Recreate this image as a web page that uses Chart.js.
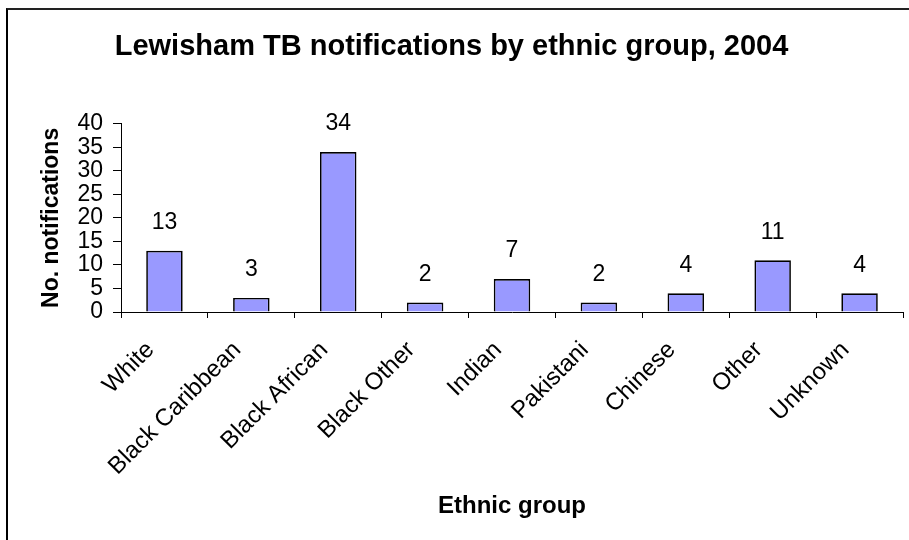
<!DOCTYPE html>
<html>
<head>
<meta charset="utf-8">
<script src="https://cdn.jsdelivr.net/npm/chart.js@4"></script>
<style>
  body { margin: 0; background: #fff; }
  #wrap { position: relative; width: 909px; height: 540px; overflow: hidden; }
  #frame { position: absolute; left: 6px; top: 8px; width: 1000px; height: 600px;
           border-left: 2px solid #000; border-top: 2px solid #222; pointer-events: none; }
  canvas { position: absolute; left: 0; top: 0; }
</style>
</head>
<body>
<div id="wrap">
  <canvas id="tb_chart" width="909" height="540"></canvas>
  <div id="frame"></div>
</div>
<script>
// Ethnic groups and the number of TB notifications for each
let groups = ['White', 'Black Caribbean', 'Black African', 'Black Other', 'Indian', 'Pakistani', 'Chinese', 'Other', 'Unknown']
let notifications = [13, 3, 34, 2, 7, 2, 4, 11, 4]
let yTicks = [0, 5, 10, 15, 20, 25, 30, 35, 40]

const font = 'Liberation Sans, Arial, sans-serif'

// Write each count above its bar
const valueLabels = {
  id: 'valueLabels',
  afterDatasetsDraw(chart) {
    const ctx = chart.ctx
    ctx.save()
    ctx.font = '23px ' + font
    ctx.fillStyle = '#000'
    ctx.textAlign = 'center'
    ctx.textBaseline = 'middle'
    chart.getDatasetMeta(0).data.forEach((bar, i) => {
      ctx.fillText(notifications[i], bar.x, bar.y - 28)
    })
    ctx.restore()
  }
}

let ctx = document.getElementById('tb_chart')
new Chart(ctx, {
  type: 'bar',
  data: {
    labels: groups,
    datasets: [{
      data: notifications,
      backgroundColor: '#9999FF',
      borderColor: '#000',
      borderWidth: 1.7,
      barPercentage: 0.42,
      categoryPercentage: 1
    }]
  },
  options: {
    responsive: false,
    animation: false,
    layout: { padding: { left: 0, right: 6, top: 0, bottom: 0 } },
    plugins: {
      legend: { display: false },
      tooltip: { enabled: false },
      title: {
        display: true,
        text: 'Lewisham TB notifications by ethnic group, 2004',
        color: '#000',
        font: { family: font, size: 29, weight: 'bold' },
        padding: { top: 30, bottom: 59 }
      }
    },
    scales: {
      x: {
        grid: { drawOnChartArea: false, offset: true, tickLength: 6, color: '#000' },
        border: { color: '#000', width: 1 },
        ticks: {
          color: '#000',
          font: { family: font, size: 24 },
          minRotation: 45,
          maxRotation: 45,
          autoSkip: false,
          labelOffset: -14,
          padding: 18
        },
        title: {
          display: true,
          text: 'Ethnic group',
          color: '#000',
          font: { family: font, size: 24, weight: 'bold' },
          padding: { top: 0, bottom: 19 }
        },
        afterFit(scale) { scale.height = 228 }
      },
      y: {
        min: 0,
        max: 40,
        afterBuildTicks(scale) { scale.ticks = yTicks.map(v => ({ value: v })) },
        grid: { drawOnChartArea: false, tickLength: 8, color: '#000' },
        border: { color: '#000', width: 1 },
        ticks: {
          color: '#000',
          font: { family: font, size: 23 },
          autoSkip: false,
          padding: 10
        },
        title: {
          display: true,
          text: 'No. notifications',
          color: '#000',
          font: { family: font, size: 23, weight: 'bold' },
          padding: { top: 38, bottom: 0 }
        },
        afterFit(scale) { scale.width = 121 }
      }
    }
  },
  plugins: [valueLabels]
})
</script>
</body>
</html>
